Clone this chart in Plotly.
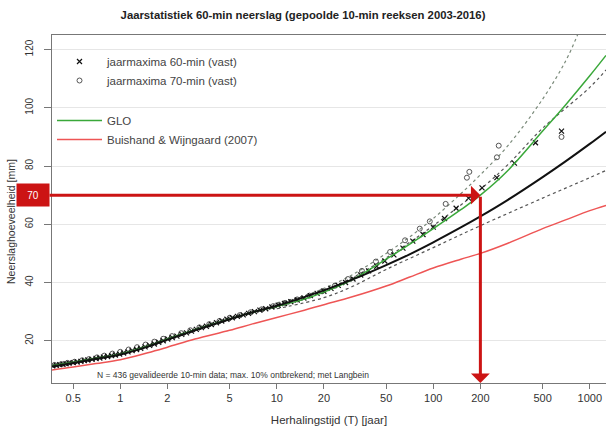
import math
import plotly.graph_objects as go

# ---------------- data ----------------
T_curve = [0.366, 0.5, 0.7, 1, 1.5, 2, 3, 5, 7, 10, 15, 20, 30, 50, 70, 100, 150, 200, 300, 500, 700, 1000, 1270]
fit_black = [11.2, 12.4, 13.8, 15.3, 18.0, 20.4, 23.6, 27.4, 29.8, 32.0, 35.0, 37.3, 40.9, 46.0, 49.6, 53.8, 58.9, 62.7, 68.4, 76.2, 81.6, 87.6, 91.8]
glo_green = [11.4, 12.6, 14.0, 15.5, 18.2, 20.6, 23.8, 27.5, 29.8, 31.8, 34.3, 36.7, 40.8, 48.0, 53.0, 58.5, 65.0, 70.0, 78.5, 92.0, 101.0, 111.0, 118.0]
bw_red = [10.0, 11.0, 12.2, 13.5, 15.9, 17.8, 20.6, 23.6, 25.8, 28.0, 30.5, 32.4, 35.0, 38.8, 41.8, 45.0, 48.0, 50.0, 53.5, 58.5, 61.5, 64.7, 66.5]

T_dash_outer = [10, 15, 20, 30, 50, 70, 100, 150, 200, 300, 500, 700, 850]
dash_outer = [33.0, 35.5, 38.0, 42.5, 50.0, 55.5, 62.0, 70.5, 77.0, 87.0, 103.0, 116.0, 126.0]
T_dash_upper = [10, 20, 30, 50, 100, 200, 300, 500, 1000, 1270]
dash_upper = [32.8, 37.5, 41.5, 48.5, 59.5, 72.0, 80.5, 93.0, 107.0, 113.0]
T_dash_lower = [10, 20, 30, 50, 100, 200, 500, 1000, 1270]
dash_lower = [31.0, 34.8, 38.5, 44.5, 52.0, 59.5, 69.0, 76.0, 78.5]

T_x60 = [0.37, 0.39, 0.41, 0.43, 0.45, 0.47, 0.50, 0.53, 0.56, 0.59, 0.62, 0.66, 0.70, 0.74, 0.78, 0.83,
         0.88, 0.93, 0.99, 1.05, 1.12, 1.19, 1.27, 1.35, 1.44, 1.54, 1.65, 1.76, 1.88, 2.01, 2.15, 2.3,
         2.47, 2.65, 2.85, 3.06, 3.3, 3.55, 3.82, 4.12, 4.45, 4.8, 5.2, 5.6, 6.1, 6.6, 7.2, 7.8, 8.5,
         9.3, 10.2, 11.2, 12.3, 13.5, 14.9, 16.4, 18.1, 20.0, 22.2, 24.7, 27.5, 30.7, 34.4, 38.6, 43.5,
         49, 56, 64, 74, 86, 100, 118, 140, 168, 205, 255, 330, 450, 660]
V_x60 = [11.4, 11.6, 11.8, 11.9, 12.1, 12.3, 12.5, 12.7, 12.9, 13.2, 13.4, 13.6, 13.9, 14.1, 14.4, 14.6,
         14.9, 15.1, 15.4, 15.8, 16.2, 16.6, 17.0, 17.4, 17.9, 18.4, 18.9, 19.5, 20.0, 20.6, 21.1, 21.6,
         22.2, 22.7, 23.3, 23.9, 24.5, 25.0, 25.6, 26.2, 26.8, 27.4, 27.9, 28.4, 28.9, 29.4, 30.0, 30.5, 31.0,
         31.6, 32.2, 32.8, 33.4, 34.0, 34.7, 35.5, 36.3, 37.0, 38.0, 39.0, 40.0, 41.2, 42.6, 44.0, 45.6,
         47.4, 49.5, 51.8, 54.2, 56.5, 59.0, 62.0, 65.5, 69.0, 72.5, 76.0, 81.0, 88.0, 92.0]

T_o70 = [0.38, 0.42, 0.46, 0.51, 0.57, 0.63, 0.71, 0.79, 0.89, 1.0, 1.13, 1.28, 1.45, 1.65, 1.88, 2.14,
         2.45, 2.8, 3.2, 3.7, 4.3, 5.0, 5.8, 6.8, 8.0, 9.5, 11.3, 13.5, 16.2, 19.5, 23.5, 28.5, 35, 43,
         53, 66, 82, 95, 120, 164, 170, 255, 262, 660]
V_o70 = [11.7, 12.0, 12.4, 12.8, 13.3, 13.7, 14.3, 14.9, 15.6, 16.2, 17.0, 17.8, 18.7, 19.7, 20.7, 21.6,
         22.6, 23.6, 24.6, 25.7, 26.8, 27.9, 28.8, 29.8, 30.8, 31.9, 33.0, 34.2, 35.5, 37.0, 38.9, 41.2, 44.0, 47.2,
         50.5, 54.5, 58.5, 61.0, 67.0, 76.0, 78.0, 83.0, 87.0, 90.0]

x_tickvals = [0.5, 1, 2, 5, 10, 20, 50, 100, 200, 500, 1000]
x_ticktext = ["0.5", "1", "2", "5", "10", "20", "50", "100", "200", "500", "1000"]
y_tickvals = [20, 40, 60, 80, 100, 120]

T_target = 200
P_target = 70

# ---------------- figure ----------------
W, H = 606, 430
ML, MR, MT, MB = 52, 0, 35, 47
PW, PH = W - ML - MR, H - MT - MB
x_range = [math.log10(0.366), math.log10(1270)]
y_range = [5.5, 125]

RED = "#cc1414"
FONT = "Liberation Sans, Arial, sans-serif"

fig = go.Figure()

# white box behind legend (hides gridlines)
fig.add_shape(type="rect", xref="paper", yref="paper", x0=0, x1=(397 - ML) / PW,
              y0=(H - MB - 180) / PH, y1=1, fillcolor="white", line_width=0, layer="between")

dash_style = dict(width=1.2, dash="3px,3px")
fig.add_trace(go.Scatter(x=T_dash_outer, y=dash_outer, mode="lines", line=dict(color="#7a8a7a", **dash_style),
                         line_shape="spline", showlegend=False))
fig.add_trace(go.Scatter(x=T_dash_upper, y=dash_upper, mode="lines", line=dict(color="#555555", **dash_style),
                         line_shape="spline", showlegend=False))
fig.add_trace(go.Scatter(x=T_dash_lower, y=dash_lower, mode="lines", line=dict(color="#555555", **dash_style),
                         line_shape="spline", showlegend=False))

fig.add_trace(go.Scatter(x=T_curve, y=bw_red, mode="lines", line=dict(color="#ee5555", width=1.5),
                         line_shape="spline", showlegend=False))

fig.add_trace(go.Scatter(x=T_o70, y=V_o70, mode="markers", name="jaarmaxima 70-min (vast)",
                         legendgroup="pts", legendrank=2,
                         marker=dict(symbol="circle-open", size=5, color="#555555", line=dict(width=1))))
fig.add_trace(go.Scatter(x=T_x60, y=V_x60, mode="markers", name="jaarmaxima 60-min (vast)",
                         legendgroup="pts", legendrank=1,
                         marker=dict(symbol="x-thin-open", size=5, color="#111111", line=dict(width=1.2, color="#111111"))))

fig.add_trace(go.Scatter(x=T_curve, y=glo_green, mode="lines", name="GLO", legendgroup="lines", legendrank=3,
                         line=dict(color="#3aa83a", width=1.5), line_shape="spline"))
fig.add_trace(go.Scatter(x=T_curve, y=fit_black, mode="lines", line=dict(color="#111111", width=2),
                         line_shape="spline", showlegend=False))
fig.add_trace(go.Scatter(x=[None], y=[None], mode="lines", name="Buishand & Wijngaard (2007)",
                         legendgroup="lines", legendrank=4, line=dict(color="#ee5555", width=1.5)))

# red arrows
lx = math.log10(T_target)
x_left_log = x_range[0] + (48 - ML) / PW * (x_range[1] - x_range[0])
fig.add_annotation(x=lx, y=P_target, ax=x_left_log, ay=P_target, xref="x", yref="y", axref="x", ayref="y",
                   showarrow=True, arrowhead=1, arrowwidth=3, arrowsize=1.05, arrowcolor=RED, text="")
fig.add_annotation(x=lx, y=y_range[0], ax=lx, ay=P_target, xref="x", yref="y", axref="x", ayref="y",
                   showarrow=True, arrowhead=1, arrowwidth=3, arrowsize=1.05, arrowcolor=RED, text="")
# 70 label box
fig.add_annotation(x=(33 - ML) / PW, y=P_target, xref="paper", yref="y", text=str(P_target),
                   showarrow=False, bgcolor=RED, font=dict(color="white", size=10, family=FONT),
                   width=30, height=20, xanchor="center", yanchor="middle")

# note
fig.add_annotation(x=(95 - ML) / PW, y=(H - MB - 375) / PH, xref="paper", yref="paper",
                   text="N = 436 gevalideerde 10-min data; max. 10% ontbrekend; met Langbein",
                   showarrow=False, xanchor="left", yanchor="middle", font=dict(size=8.5, color="#333", family=FONT))

# y-axis title
fig.add_annotation(x=(11 - ML) / PW, y=(H - MB - 222) / PH, xref="paper", yref="paper", text="Neerslaghoeveelheid [mm]",
                   textangle=-90, showarrow=False, xanchor="center", yanchor="middle",
                   font=dict(size=10.5, color="#333", family=FONT))

fig.update_layout(
    width=W, height=H,
    margin=dict(l=ML, r=MR, t=MT, b=MB),
    paper_bgcolor="white", plot_bgcolor="white",
    title=dict(text="<b>Jaarstatistiek 60-min neerslag (gepoolde 10-min reeksen 2003-2016)</b>",
               x=0.5, xanchor="center", y=1 - 15 / H, yanchor="middle",
               font=dict(size=11.3, color="#222", family=FONT)),
    font=dict(family=FONT, color="#333"),
    legend=dict(x=0.0, y=(H - MB - 47) / PH, xanchor="left", yanchor="top", bgcolor="rgba(0,0,0,0)",
                font=dict(size=11.5, color="#444", family=FONT), tracegroupgap=21,
                itemwidth=45),
    xaxis=dict(type="log", range=x_range, tickvals=x_tickvals, ticktext=x_ticktext,
               showgrid=False, zeroline=False, showline=True, linecolor="#777", linewidth=1.2,
               mirror=True, ticks="outside", ticklen=5, tickcolor="#777",
               tickfont=dict(size=11, color="#333"),
               title=dict(text="Herhalingstijd (T) [jaar]", font=dict(size=11.5, color="#333"), standoff=12)),
    yaxis=dict(range=y_range, tickvals=y_tickvals, showgrid=True, gridcolor="#e6e6e6", gridwidth=1,
               zeroline=False, showline=True, linecolor="#777", linewidth=1.2,
               ticks="outside", ticklen=7, tickcolor="#777", tickangle=-90, ticklabelstandoff=7,
               tickfont=dict(size=10, color="#333")),
)

fig.write_html("out.html")
